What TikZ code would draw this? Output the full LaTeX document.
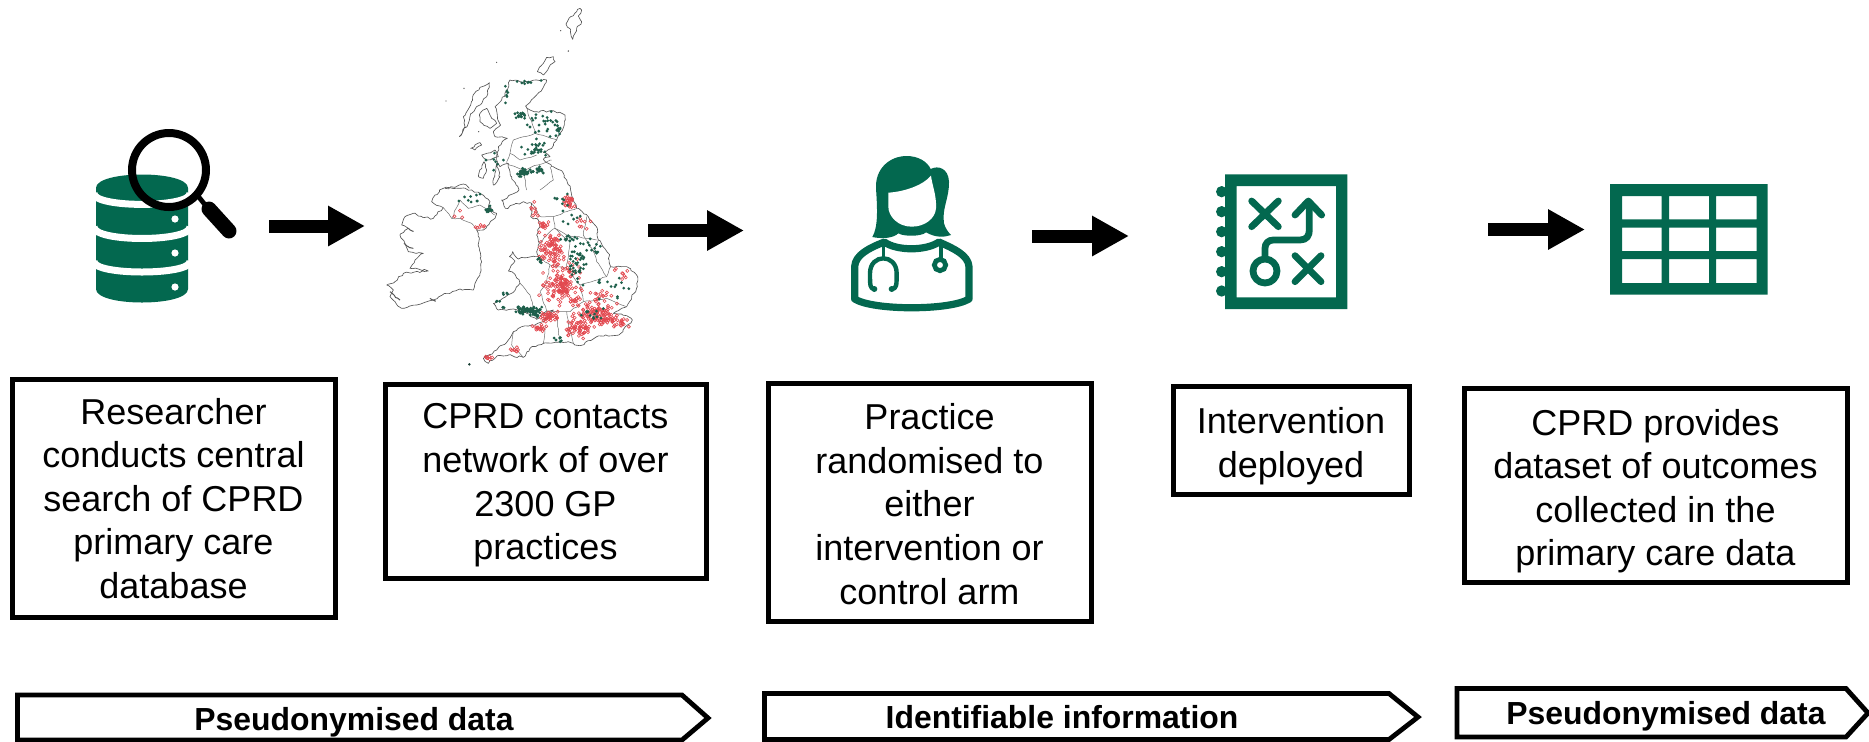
\documentclass[tikz,border=0pt]{standalone}
\usepackage{fontspec}
\setmainfont{Liberation Sans}
\usetikzlibrary{arrows.meta,decorations.pathmorphing}
\definecolor{iconGreen}{HTML}{03684F}
\definecolor{mapGreen}{HTML}{1E5F4B}
\definecolor{mapRed}{HTML}{E2484F}
\definecolor{coast}{HTML}{555555}
\tikzset{
  boxframe/.style={draw=black,line width=2.5pt,inner sep=0pt},
  boxtext/.style={align=center,inner sep=0pt,font=\fontsize{18}{21.8}\selectfont,text=black},
  bandshape/.style={draw=black,line width=2.4pt,miter limit=10},
  bandtext/.style={font=\fontsize{15.95}{19}\selectfont\bfseries,text=black,inner sep=0pt,anchor=base},
  blockarrow/.style={line width=6.5pt,draw=black,-{Triangle[length=18.5pt,width=19pt]}},
  shoreline/.style={draw=coast,line width=0.32pt,line join=round,decorate,
    decoration={random steps,segment length=1.5pt,amplitude=0.55pt}},
  countyline/.style={draw=coast!85,line width=0.25pt,line join=round,decorate,
    decoration={random steps,segment length=2pt,amplitude=0.3pt}},
  reddot/.style={draw=mapRed,line width=0.3pt},
  greendot/.style={fill=mapGreen},
  thinstroke/.style={draw=iconGreen,line cap=round,line join=round},
}
\newcommand{\mapcluster}[7][4.6]{%
  \foreach \k in {1,...,#7}{%
    \pgfmathsetmacro\ptx{#3+#5*(rand+rand)/1.2}%
    \pgfmathsetmacro\pty{#4+#6*(rand+rand)/1.2}%
    \path[#2] (\ptx,\pty) circle[radius=#1];
  }}
\begin{document}
\begin{tikzpicture}[x=0.5pt,y=-0.5pt]
\useasboundingbox (0,0) rectangle (1869,741);
\pgfmathsetseed{4711}

% ---- database icon
\fill[iconGreen] (96,188) .. controls (96,170) and (188,170) .. (188,188)
  -- (188,289) .. controls (188,307) and (96,307) .. (96,289) -- cycle;
\draw[white,line width=3.5pt] (94,193.5) .. controls (94,208) and (190,208) .. (190,193.5);
\draw[white,line width=3.5pt] (94,227) .. controls (94,242.3) and (190,242.3) .. (190,227);
\draw[white,line width=3.5pt] (94,261.5) .. controls (94,275.5) and (190,275.5) .. (190,261.5);
\fill[white] (175,219) circle[radius=3.6] (175,253) circle[radius=3.6] (175,287) circle[radius=3.6];
% magnifier
\draw[black,line width=4pt] (169,170) circle[radius=37];
\draw[black,line width=2.4pt] (198,196) -- (210,211);
\draw[black,line width=7.5pt,line cap=round] (209,209) -- (229,231);

% ---- map, upper half (zoom frame)
\begin{scope}[shift={(380,0)},scale=1/3]
\draw[shoreline] (572,570)--(560,540)--(545,512)--(515,500)--(490,478)--(510,470)--(490,458)--(515,445)--(530,420)--(540,400)--(553,375)--(555,345)--(520,332)--(470,335)--(450,330)--(437,318)--(465,290)--(490,262)--(500,240)--(470,240)--(430,248)--(390,240)--(380,270)--(365,300)--(345,320)--(352,345)--(362,375)--(340,395)--(345,410)--(382,415)--(355,440)--(350,480)--(360,500)--(385,490)--(395,530)--(417,570);
\draw[shoreline] (600,25)--(590,35)--(572,50)--(558,72)--(572,90)--(578,118)--(590,85)--(605,65)--(595,48)--(605,30)--cycle;
\draw[shoreline] (520,170)--(500,172)--(490,190)--(472,215)--(490,225)--(505,205)--(525,185)--cycle;
\draw[shoreline] (328,248)--(300,262)--(278,290)--(272,315)--(250,350)--(255,380)--(238,410)--(265,370)--(275,340)--(320,290)--(328,262)--cycle;
\draw[shoreline] (300,340)--(320,325)--(330,345)--(350,370)--(330,385)--(300,365)--cycle;
\draw[shoreline] (272,445)--(300,428)--(305,435)--(285,450)--cycle;
\draw[shoreline] (305,465)--(345,450)--(355,470)--(320,480)--cycle;
\draw[shoreline] (295,530)--(312,485)--(320,510)--(310,535)--cycle;
\draw[shoreline] (340,555)--(350,490)--(360,530)--cycle;
\draw[shoreline] (195,565)--(225,562)--(250,552)--(268,565);
\draw[countyline] (437,318)--(460,380)--(465,400)--(400,420)--(390,460)--(420,480)--(470,465);
\draw[countyline] (465,400)--(530,420);
\draw[countyline] (390,460)--(380,490)--(430,510)--(515,480);
\draw[countyline] (510,500)--(520,540)--(480,570);
\draw[countyline] (430,510)--(440,570);
\fill[coast] (198,303) circle[radius=2] (350,187) circle[radius=2] (565,153) circle[radius=2.5] (542,92) circle[radius=2] (252,265) circle[radius=2] (296,395) circle[radius=2];
\mapcluster{greendot}{430}{518}{12}{8}{36}
\mapcluster{greendot}{478}{510}{8}{7}{16}
\mapcluster{greendot}{455}{513}{12}{4}{6}
\mapcluster{greendot}{425}{348}{14}{8}{16}
\mapcluster{greendot}{490}{375}{42}{26}{26}
\mapcluster{greendot}{470}{448}{30}{16}{24}
\mapcluster{greendot}{535}{388}{8}{14}{9}
\mapcluster{greendot}{440}{248}{44}{5}{8}
\mapcluster{greendot}{378}{285}{6}{22}{6}
\mapcluster{greendot}{345}{490}{24}{32}{7}
\end{scope}

% ---- map, lower half (zoom frame)
\begin{scope}[shift={(380,185)},scale=1/3]
% Ireland
\draw[shoreline] (190,10)--(165,30)--(155,50)--(190,68)--(160,100)--(130,98)--(100,85)--(75,95)--(65,120)--(85,130)--(60,150)--(75,175)--(85,200)--(110,205)--(130,205)--(105,225)--(90,250)--(145,258)--(70,265)--(45,290)--(20,300)--(40,315)--(30,335)--(45,350)--(65,370)--(110,360)--(160,345)--(200,325)--(240,312)--(280,315)--(285,295)--(300,265)--(305,230)--(298,190)--(295,145)--(290,135)--(310,135)--(345,100)--(350,85)--(325,65)--(330,50)--(300,25)--(275,15)--(240,10)--(210,8)--cycle;
\draw[countyline] (190,68)--(215,100)--(240,100)--(275,115)--(290,135);
\draw[countyline] (215,100)--(240,45)--(265,70)--(300,60)--(345,90);
\draw[coast,line width=0.5pt,decorate,decoration={random steps,segment length=1.2pt,amplitude=0.6pt}] (85,130)--(100,140) (72,175)--(100,190) (30,320)--(60,345) (150,340)--(165,350);
% Great Britain
\draw[shoreline] (417,15)--(365,45)--(376,70)--(430,50)--(455,55)--(452,95)--(475,105)--(480,125)--(470,150)--(478,175)--(470,200)--(476,215)--(440,218)--(415,222)--(398,200)--(388,215)--(405,228)--(385,258)--(405,268)--(420,295)--(400,322)--(368,340)--(340,355)--(355,375)--(400,372)--(440,385)--(470,403)--(500,378)--(520,375)--(490,410)--(455,420)--(425,425)--(400,440)--(385,465)--(350,495)--(310,520)--(325,535)--(352,512)--(385,510)--(430,517)--(450,490)--(490,475)--(540,470)--(580,475)--(600,482)--(650,455)--(720,447)--(757,405)--(740,392)--(700,385)--(740,365)--(772,305)--(770,270)--(740,245)--(692,245)--(685,205)--(655,165)--(652,130)--(625,95)--(590,70)--(580,40)--(572,15);
\draw[countyline] (455,55)--(480,95)--(520,95)--(560,80)--(590,70);
\draw[countyline] (520,95)--(525,130)--(560,150)--(650,165);
\draw[countyline] (478,175)--(510,140)--(525,130);
\draw[countyline] (476,215)--(510,240)--(500,290)--(480,320)--(500,378);
\draw[countyline] (510,240)--(560,250)--(600,300)--(680,275)--(692,245);
\draw[countyline] (600,300)--(610,350)--(570,380)--(540,380)--(500,378);
\draw[countyline] (560,380)--(570,440)--(580,475);
\draw[countyline] (610,350)--(680,340)--(740,365);
\draw[countyline] (620,95)--(610,150)--(640,200)--(655,165);
\draw[countyline] (490,475)--(495,420);
\draw[countyline] (540,470)--(530,400);
\draw[countyline] (400,440)--(395,480)--(430,517);
\draw[countyline] (420,295)--(450,330)--(470,403);
\draw[countyline] (560,250)--(570,170)--(525,130);
\draw[countyline] (680,275)--(650,230)--(640,200);
\fill[mapGreen!60!black] (268,538) circle[radius=4];
% red practices
\mapcluster{reddot}{568}{50}{11}{12}{24}
\mapcluster{reddot}{465}{75}{8}{18}{8}
\mapcluster{reddot}{490}{125}{13}{12}{14}
\mapcluster{reddot}{515}{190}{27}{25}{70}
\mapcluster{reddot}{530}{232}{18}{16}{16}
\mapcluster{reddot}{545}{290}{25}{25}{70}
\mapcluster{reddot}{510}{305}{25}{30}{24}
\mapcluster{reddot}{580}{325}{32}{30}{30}
\mapcluster{reddot}{645}{385}{50}{22}{85}
\mapcluster{reddot}{600}{430}{28}{24}{55}
\mapcluster{reddot}{725}{410}{26}{12}{14}
\mapcluster{reddot}{505}{395}{20}{12}{32}
\mapcluster{reddot}{480}{430}{18}{11}{16}
\mapcluster{reddot}{660}{340}{26}{20}{18}
\mapcluster{reddot}{330}{517}{15}{5}{6}
\mapcluster{reddot}{405}{495}{12}{8}{8}
\mapcluster{reddot}{730}{275}{24}{17}{8}
\mapcluster{reddot}{300}{125}{10}{6}{6}
\mapcluster{reddot}{235}{85}{16}{16}{3}
\mapcluster{reddot}{610}{120}{22}{18}{8}
\mapcluster{reddot}{680}{410}{32}{14}{24}
\mapcluster{reddot}{570}{260}{30}{35}{14}
% green practices
\mapcluster{greendot}{440}{375}{28}{9}{60}
\mapcluster{greendot}{465}{385}{10}{9}{14}
\mapcluster{greendot}{590}{240}{18}{42}{38}
\mapcluster{greendot}{640}{190}{24}{24}{14}
\mapcluster{greendot}{570}{165}{20}{11}{12}
\mapcluster{greendot}{325}{75}{8}{9}{16}
\mapcluster{greendot}{270}{40}{28}{12}{9}
\mapcluster{greendot}{482}{228}{7}{8}{7}
\mapcluster{greendot}{385}{325}{24}{10}{4}
\mapcluster{greendot}{352}{350}{6}{4}{3}
\mapcluster{greendot}{368}{368}{8}{3}{3}
\mapcluster{greendot}{690}{305}{46}{32}{14}
\mapcluster{greendot}{630}{385}{32}{15}{12}
\mapcluster{greendot}{540}{465}{14}{6}{6}
\mapcluster{greendot}{545}{55}{22}{24}{9}
\mapcluster{greendot}{580}{100}{24}{16}{6}
\end{scope}

% ---- clinician icon
\begin{scope}[shift={(840,145)},scale=1/3]
\fill[iconGreen] (97,276) .. controls (115,245) and (112,190) .. (108,130)
  .. controls (105,70) and (150,33) .. (200,33)
  .. controls (235,33) and (262,50) .. (272,72)
  .. controls (295,60) and (325,70) .. (327,110)
  .. controls (328,160) and (305,190) .. (312,235)
  .. controls (316,250) and (325,262) .. (333,270)
  .. controls (315,276) and (290,280) .. (258,262)
  .. controls (245,275) and (190,275) .. (175,265)
  .. controls (160,280) and (125,282) .. (97,276) -- cycle;
\fill[white] (145,143) .. controls (195,140) and (250,120) .. (273,92)
  .. controls (276,120) and (290,150) .. (288,190)
  .. controls (286,220) and (255,245) .. (215,245)
  .. controls (175,245) and (145,215) .. (145,185) -- cycle;
\draw[iconGreen,line width=3.6pt,line join=round]
  (44,462) -- (44,365) .. controls (46,330) and (85,310) .. (133,291)
  .. controls (170,318) and (258,318) .. (297,291)
  .. controls (340,310) and (385,330) .. (387,365) -- (387,462)
  .. controls (330,497) and (100,497) .. (44,462) -- cycle;
\draw[thinstroke,line width=1.6pt] (130,300) -- (130,340);
\draw[thinstroke,line width=2.2pt] (103,432) .. controls (90,432) and (90,420) .. (90,385)
  .. controls (90,325) and (170,325) .. (170,385)
  .. controls (170,420) and (170,432) .. (155,432);
\fill[iconGreen] (103,432) circle[radius=9] (155,432) circle[radius=9];
\draw[thinstroke,line width=1.6pt] (303,300) -- (303,340);
\draw[iconGreen,line width=2.4pt] (300,360) circle[radius=17];
\end{scope}

% ---- playbook icon
\begin{scope}[shift={(1210,165)},scale=1/3]
\fill[iconGreen] (35,80) circle[radius=17] (35,140) circle[radius=17] (35,200) circle[radius=17]
  (35,260) circle[radius=17] (35,320) circle[radius=17] (35,378) circle[radius=17];
\fill[iconGreen,even odd rule] (45,28) rectangle (412,432) (80,63) rectangle (378,397);
\begin{scope}[iconGreen,line width=3.4pt,line cap=round,line join=round]
\draw[thinstroke] (125,108) -- (205,185) (205,108) -- (125,185);
\draw[thinstroke] (255,272) -- (333,350) (333,272) -- (255,350);
\draw[thinstroke] (165,318) circle[radius=36];
\draw[thinstroke] (165,275) -- (165,250) .. controls (165,235) and (175,225) .. (190,225)
  -- (270,225) .. controls (290,225) and (298,212) .. (298,195) -- (298,115);
\draw[thinstroke] (255,150) -- (295,108) -- (335,150);
\end{scope}
\end{scope}

% ---- table icon
\fill[iconGreen,even odd rule] (1610,184) rectangle (1767.5,294.7)
  (1622,196) rectangle (1661.5,219.3) (1669,196) rectangle (1709,219.3) (1716,196) rectangle (1756.6,219.3)
  (1622,227.7) rectangle (1661.5,251) (1669,227.7) rectangle (1709,251) (1716,227.7) rectangle (1756.6,251)
  (1622,259) rectangle (1661.5,283) (1669,259) rectangle (1709,283) (1716,259) rectangle (1756.6,283);

% ---- arrows between icons
\coordinate (a1s) at (269,226); \coordinate (a1e) at (365,226);
\coordinate (a2s) at (648,230.5); \coordinate (a2e) at (744,230.5);
\coordinate (a3s) at (1032,236); \coordinate (a3e) at (1129,236);
\coordinate (a4s) at (1488,229.5); \coordinate (a4e) at (1585,229.5);
\draw[blockarrow] (a1s) -- (a1e);
\draw[blockarrow] (a2s) -- (a2e);
\draw[blockarrow] (a3s) -- (a3e);
\draw[blockarrow] (a4s) -- (a4e);

% ---- text boxes
\node[boxframe,minimum width=161.5pt,minimum height=119pt] (b1) at (173.5,498) {};
\node[boxtext] (b1t) at (173.5,498.5)
  {Researcher\\conducts central\\search of CPRD\\primary care\\database};
\node[boxframe,minimum width=160.5pt,minimum height=96.75pt] (b2) at (545.5,481.25) {};
\node[boxtext] (b2t) at (545.5,485.5)
  {CPRD contacts\\network of over\\2300 GP\\practices};
\node[boxframe,minimum width=161.5pt,minimum height=119pt] (b3) at (929.5,502) {};
\node[boxtext] (b3t) at (929.5,504)
  {Practice\\randomised to\\either\\intervention or\\control arm};
\node[boxframe,minimum width=118pt,minimum height=54pt] (b4) at (1291,440) {};
\node[boxtext] (b4t) at (1291,446) {Intervention\\deployed};
\node[boxframe,minimum width=191.5pt,minimum height=97.25pt] (b5) at (1655.5,485.25) {};
\node[boxtext] (b5t) at (1655.5,491.25)
  {CPRD provides\\dataset of outcomes\\collected in the\\primary care data};

% ---- data-type bands
\draw[bandshape] (17.5,695) -- (682,695) -- (708,718) -- (682,740) -- (17.5,740) -- cycle;
\node[bandtext] (t1) at (354,730) {Pseudonymised data};
\draw[bandshape] (764.5,693.5) -- (1389,693.5) -- (1418,717) -- (1389,739.5) -- (764.5,739.5) -- cycle;
\node[bandtext] (t2) at (1062,728) {Identifiable information};
\draw[bandshape] (1457,688.5) -- (1846,688.5) -- (1868,713) -- (1846,737) -- (1457,737) -- cycle;
\node[bandtext] (t3) at (1666,724) {Pseudonymised data};
\end{tikzpicture}
\end{document}
